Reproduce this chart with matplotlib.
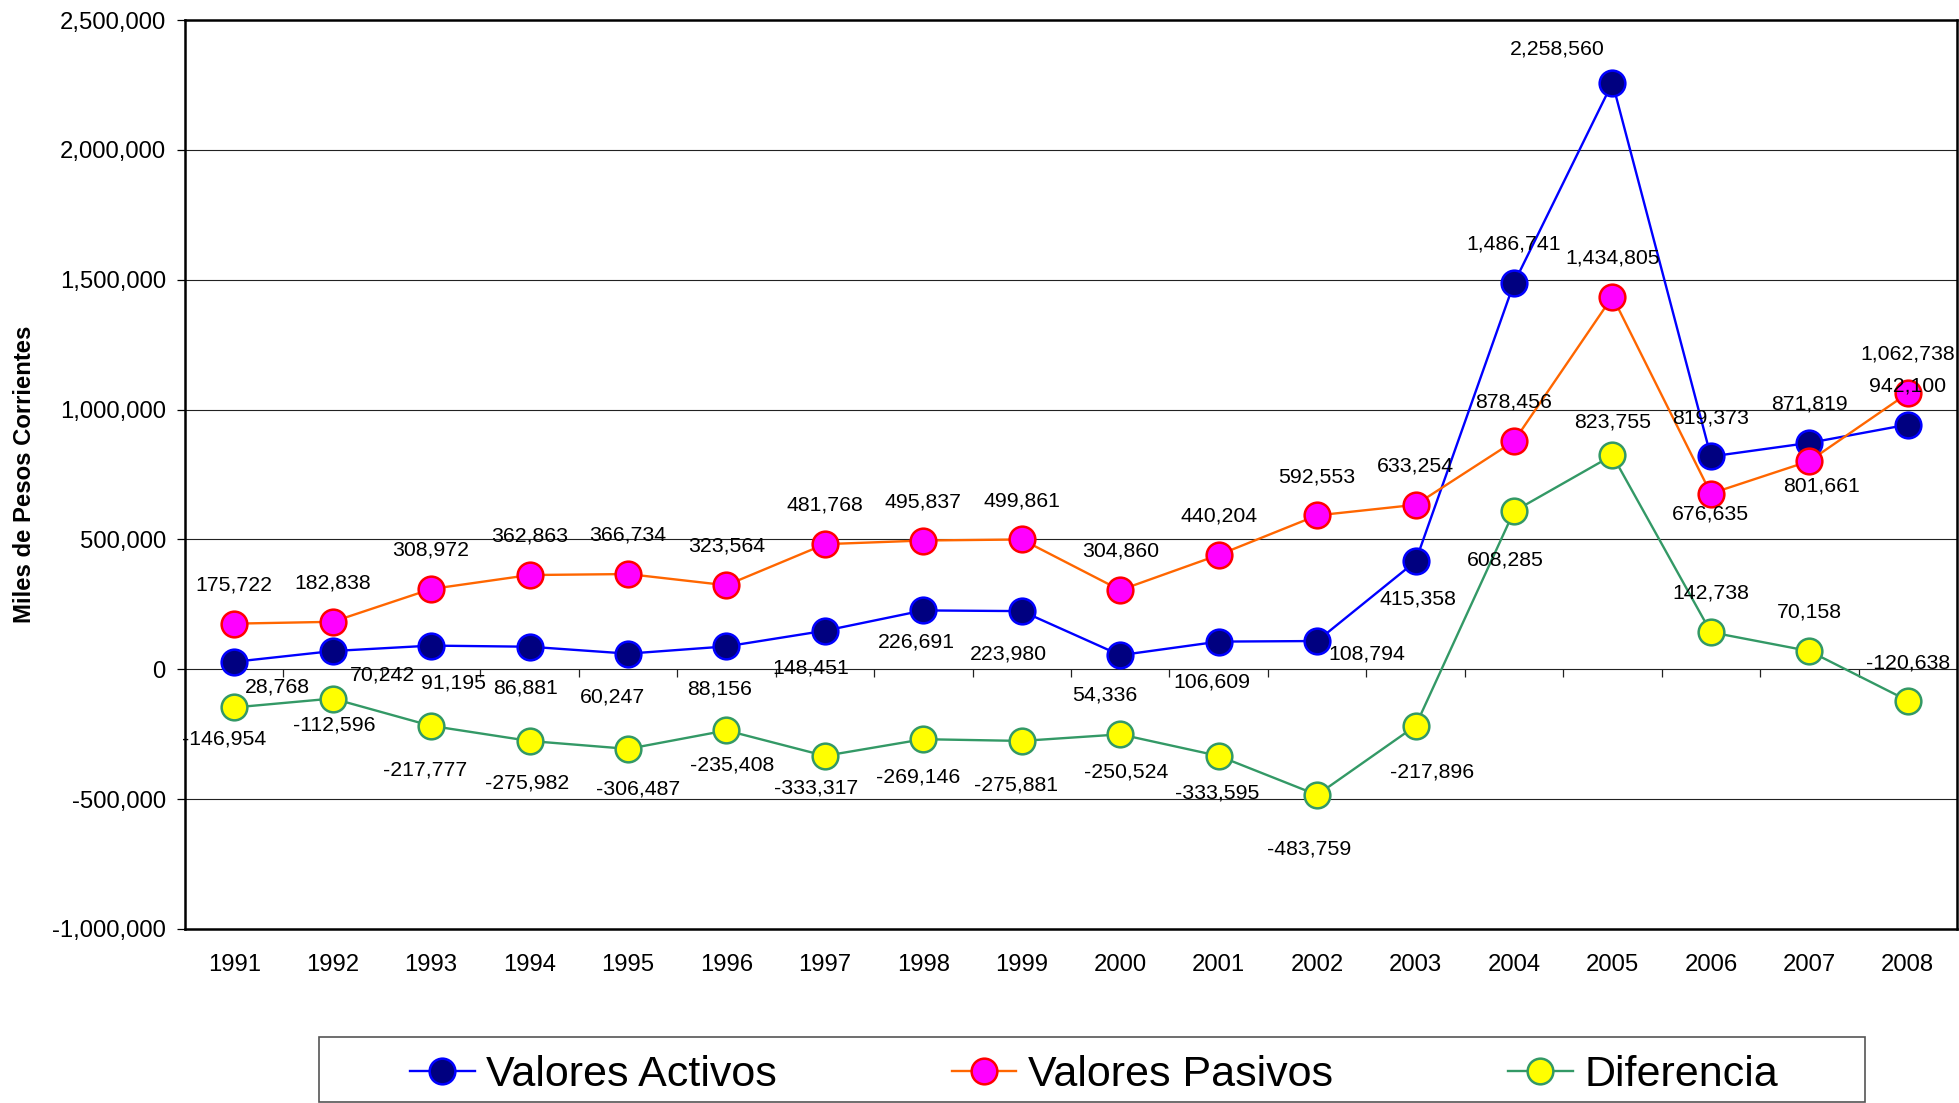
import matplotlib
matplotlib.use("Agg")
import matplotlib.pyplot as plt
from matplotlib.ticker import FuncFormatter, MultipleLocator
from matplotlib.patches import Rectangle
import numpy as np

plt.rcParams["font.family"] = ["Liberation Sans", "DejaVu Sans"]

# Data (miles de pesos corrientes)
years = ["1991", "1992", "1993", "1994", "1995", "1996", "1997", "1998", "1999",
         "2000", "2001", "2002", "2003", "2004", "2005", "2006", "2007", "2008"]
activos = [28768, 70242, 91195, 86881, 60247, 88156, 148451, 226691, 223980,
           54336, 106609, 108794, 415358, 1486741, 2258560, 819373, 871819, 942100]
pasivos = [175722, 182838, 308972, 362863, 366734, 323564, 481768, 495837, 499861,
           304860, 440204, 592553, 633254, 878456, 1434805, 676635, 801661, 1062738]
diferencia = [-146954, -112596, -217777, -275982, -306487, -235408, -333317, -269146,
              -275881, -250524, -333595, -483759, -217896, 608285, 823755, 142738,
              70158, -120638]

series_names = ["Valores Activos", "Valores Pasivos", "Diferencia"]

# Label placement (offset in points from each marker)
off_activos = [(31, -18), (36, -17), (16, -27), (-3, -30), (-11, -31), (-5, -31),
               (-10, -27), (-5, -23), (-10, -31), (-11, -29), (-5, -29), (36, -9),
               (2, -27), (0, 28), (-40, 24), (0, 28), (0, 28), (0, 28)]
off_pasivos = [(0, 28)] * 15 + [(0, -15), (9, -18), (0, 28)]
off_diferencia = [(-7, -23), (1, -19), (-4, -32), (-2, -30), (7, -29), (4, -25),
                  (-6, -23), (-4, -27), (-4, -32), (4, -27), (-1, -27), (-6, -39),
                  (12, -33), (-6, -35), (0, 24), (0, 28), (0, 28), (0, 27)]

styles = [
    dict(color="#0000FF", mfc="#000080", mec="#0000FF"),
    dict(color="#FF6600", mfc="#FF00FF", mec="#FF0000"),
    dict(color="#339966", mfc="#FFFF00", mec="#339966"),
]

W, H = 1959, 1103
fig = plt.figure(figsize=(W / 100, H / 100), dpi=100)
ax = fig.add_axes([185 / W, (H - 929) / H, (1957 - 185) / W, (929 - 20) / H])

x = np.arange(len(years))
ax.set_xlim(-0.5, len(years) - 0.5)
ax.set_ylim(-1_000_000, 2_500_000)
ax.yaxis.set_major_locator(MultipleLocator(500_000))
ax.yaxis.set_major_formatter(FuncFormatter(lambda v, p: f"{int(v):,}"))

# horizontal gridlines
for v in np.arange(-500_000, 2_500_000, 500_000):
    ax.axhline(v, color="#222222", lw=0.8, zorder=1)

# category-boundary ticks on the zero line
bounds = np.arange(0.5, len(years) - 0.5, 1.0)
ax.plot(bounds, np.zeros_like(bounds), linestyle="none", marker=3, ms=5.5,
        mew=0.9, color="#222222", zorder=1)

handles = []
for vals, st, name, offs in zip([activos, pasivos, diferencia], styles, series_names,
                                 [off_activos, off_pasivos, off_diferencia]):
    h, = ax.plot(x, vals, color=st["color"], lw=1.7, marker="o", ms=18.5,
                 mfc=st["mfc"], mec=st["mec"], mew=1.8, label=name, zorder=3)
    handles.append(h)
    for xi, v, (dx, dy) in zip(x, vals, offs):
        ax.annotate(f"{v:,}", (xi, v), xytext=(dx, dy), textcoords="offset points",
                    ha="center", va="center", fontsize=15.3, color="black", zorder=10)

ax.set_xticks(x)
ax.set_xticklabels(years, fontsize=17.2)
ax.tick_params(axis="x", length=0, pad=18)
ax.tick_params(axis="y", length=5.8, width=0.9, pad=8, labelsize=17.2, direction="out")

for s in ax.spines.values():
    s.set_linewidth(1.8)
    s.set_color("black")

fig.text(25 / W, 1 - 474 / H, "Miles de Pesos Corrientes", rotation=90,
         fontsize=17.2, fontweight="bold", ha="center", va="center")

# legend box
fig.patches.append(Rectangle((319 / W, 1 / H), (1865 - 319) / W, 65 / H,
                             transform=fig.transFigure, fill=False,
                             edgecolor="#555555", lw=1.2))
leg_h = 60 / H
fig.legend(handles=handles, labels=series_names, loc="center", ncol=3, mode="expand",
           bbox_to_anchor=(410 / W, 1 - 1075 / H - leg_h / 2, (1778 - 410) / W, leg_h),
           bbox_transform=fig.transFigure, frameon=False, fontsize=31,
           borderpad=0, handlelength=1.5, handletextpad=0.27, borderaxespad=0)

fig.savefig("out.png", dpi=100)
